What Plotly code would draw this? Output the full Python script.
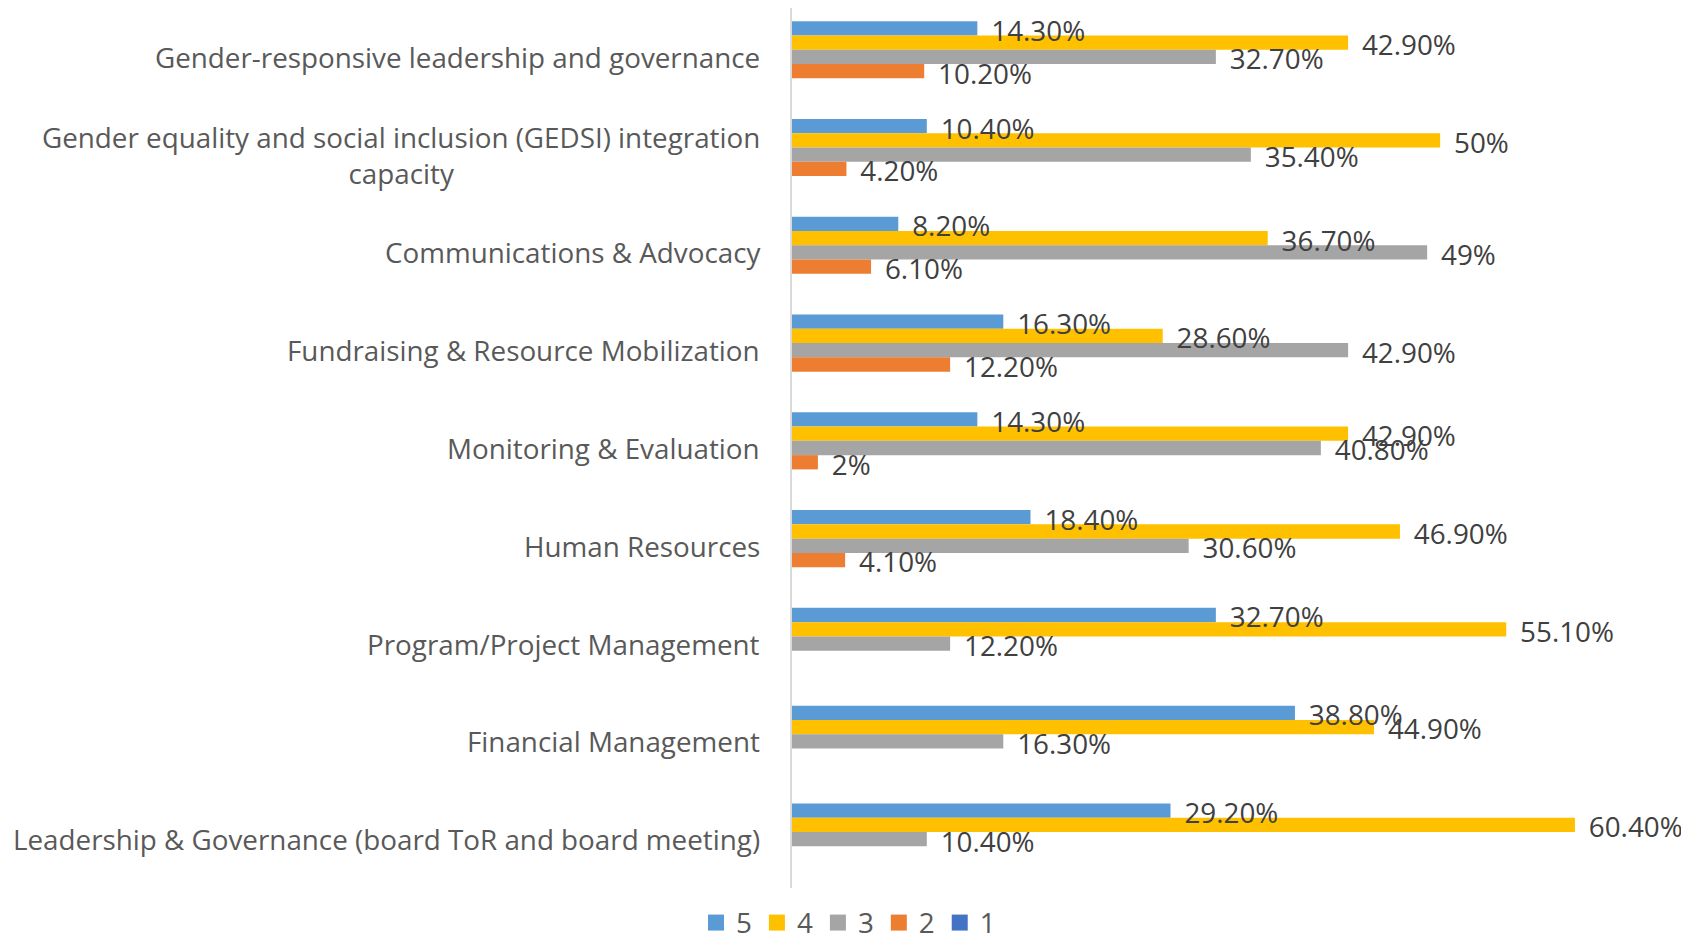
import plotly.graph_objects as go

categories = [
    "Gender-responsive leadership and governance",
    "Gender equality and social inclusion (GEDSI) integration<br>capacity",
    "Communications & Advocacy",
    "Fundraising & Resource Mobilization",
    "Monitoring & Evaluation",
    "Human Resources",
    "Program/Project Management",
    "Financial Management",
    "Leadership & Governance (board ToR and board meeting)",
]
series_names = ["5", "4", "3", "2", "1"]
s5 = [14.3, 10.4, 8.2, 16.3, 14.3, 18.4, 32.7, 38.8, 29.2]
s4 = [42.9, 50.0, 36.7, 28.6, 42.9, 46.9, 55.1, 44.9, 60.4]
s3 = [32.7, 35.4, 49.0, 42.9, 40.8, 30.6, 12.2, 16.3, 10.4]
s2 = [10.2, 4.2, 6.1, 12.2, 2.0, 4.1, None, None, None]
s1 = [None] * 9
colors = ["#5B9BD5", "#FFC000", "#A5A5A5", "#ED7D31", "#4472C4"]

FONT = "Open Sans"
FS = 27.8
GAP = 0.27
N = len(categories)
LABEL_DROP = 0.056  # labels sit slightly below the bar centre (in category units)


def fmt(v):
    if v is None:
        return ""
    if float(v).is_integer():
        return f"{int(v)}%"
    return f"{v:.2f}%"


all_series = [s5, s4, s3, s2, s1]
fig = go.Figure()

# bars
for name, vals, col in zip(series_names, all_series, colors):
    fig.add_trace(go.Bar(
        y=categories, x=vals, name=name, orientation="h",
        marker=dict(color=col, line=dict(width=0)),
        offsetgroup=name, showlegend=False, hoverinfo="skip",
    ))

# data labels (drawn above all bars)
for name, vals in zip(series_names, all_series):
    labels = [fmt(v) for v in vals] if name != "1" else [""] * len(vals)
    fig.add_trace(go.Scatter(
        y=categories, x=vals, mode="text", orientation="h", yaxis="y2",
        text=labels, texttemplate="\u2002%{text}", textposition="middle right",
        textfont=dict(family=FONT, size=FS, color="#404040"),
        offsetgroup=name, showlegend=False, hoverinfo="skip", cliponaxis=False,
    ))

# legend entries with square swatches
for name, col in zip(series_names, colors):
    fig.add_trace(go.Scatter(
        x=[None], y=[None], mode="markers", name=name, yaxis="y2",
        marker=dict(symbol="square", size=16, color=col),
        offsetgroup=name, showlegend=True, hoverinfo="skip",
    ))

for c in categories:
    fig.add_annotation(
        x=0, xref="paper", y=c, yref="y", text=c, showarrow=False,
        xanchor="right", yanchor="middle", align="center", xshift=-30,
        font=dict(family=FONT, size=FS, color="#595959"),
    )

fig.update_layout(
    width=1681, height=940,
    margin=dict(l=784, r=0, t=0, b=60),
    paper_bgcolor="white", plot_bgcolor="white",
    barmode="group", bargap=GAP, bargroupgap=0,
    scattermode="group", scattergap=GAP,
    showlegend=True,
    legend=dict(
        orientation="h", xref="container", yref="container",
        x=0.5, xanchor="center", y=0, yanchor="bottom",
        font=dict(family=FONT, size=FS, color="#595959"),
        traceorder="normal", itemwidth=30,
    ),
    xaxis=dict(range=[0, 69.2], showgrid=False, zeroline=False,
               showticklabels=False, showline=False, fixedrange=True),
    yaxis=dict(type="category", categoryorder="array", categoryarray=categories,
               range=[N - 0.5, -0.5], showticklabels=False, showgrid=False,
               showline=True, linecolor="#D9D9D9", linewidth=2, ticks=""),
    yaxis2=dict(type="category", categoryorder="array", categoryarray=categories,
                overlaying="y", range=[N - 0.5 - LABEL_DROP, -0.5 - LABEL_DROP],
                showticklabels=False, showgrid=False, showline=False,
                zeroline=False, ticks=""),
)

fig.write_html("out.html")
